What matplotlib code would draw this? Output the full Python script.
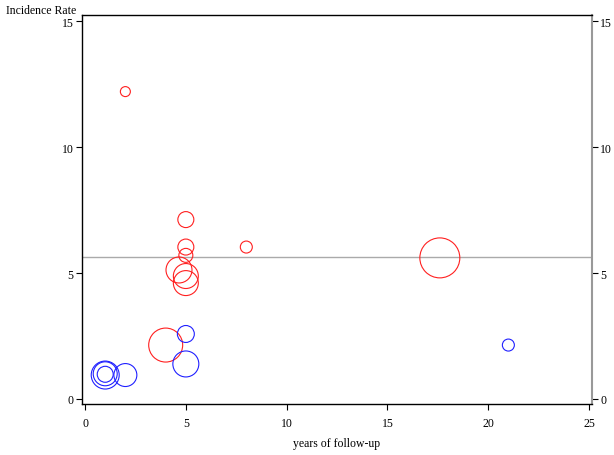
import matplotlib.pyplot as plt

# follow-up years, incidence rate, bubble weight (relative area)
red_years = [2, 5, 5, 8, 5, 4.66, 5, 5, 17.6, 4]
red_rate = [12.2, 7.12, 6.03, 6.03, 5.7, 5.12, 4.88, 4.6, 5.6, 2.14]
red_weight = [25, 64, 64, 36, 49, 169, 156, 156, 400, 289]

blue_years = [5, 5, 1, 1, 1, 2, 21]
blue_rate = [2.58, 1.39, 0.95, 1.0, 0.98, 0.95, 2.14]
blue_weight = [72, 169, 196, 144, 64, 132, 36]

pooled_rate = 5.63

xticks = [0, 5, 10, 15, 20, 25]
yticks = [0, 5, 10, 15]

plt.rcParams['font.family'] = 'Liberation Serif'
plt.rcParams['font.size'] = 8.5

fig = plt.figure(figsize=(6.14, 4.56), dpi=100)
ax = fig.add_axes([0.1336, 0.1118, 0.9642 - 0.1336, 0.9649 - 0.1118])

ax.axhline(pooled_rate, color='#aaaaaa', lw=1, zorder=1)
ax.scatter(red_years, red_rate, s=[2.07 * w for w in red_weight],
           facecolors='none', edgecolors='#ff2020', linewidths=0.8, zorder=2)
ax.scatter(blue_years, blue_rate, s=[2.07 * w for w in blue_weight],
           facecolors='none', edgecolors='#2020ff', linewidths=0.8, zorder=2)

ax.set_xlim(-0.15, 25.15)
ax.set_ylim(-0.2, 15.24)
ax.set_xticks(xticks)
ax.set_yticks(yticks)
ax.tick_params(direction='out', length=4, width=0.8, right=True, labelright=True, pad=2)
ax.tick_params(axis='x', pad=5)
ax.spines['right'].set_color('#999999')
ax.spines['right'].set_linewidth(1.5)
for s in ['left', 'top', 'bottom']:
    ax.spines[s].set_linewidth(1)

ax.set_xlabel('years of follow-up', labelpad=6)
fig.text(0.01, 0.988, 'Incidence Rate', ha='left', va='top')

fig.savefig('out.png', dpi=100)
